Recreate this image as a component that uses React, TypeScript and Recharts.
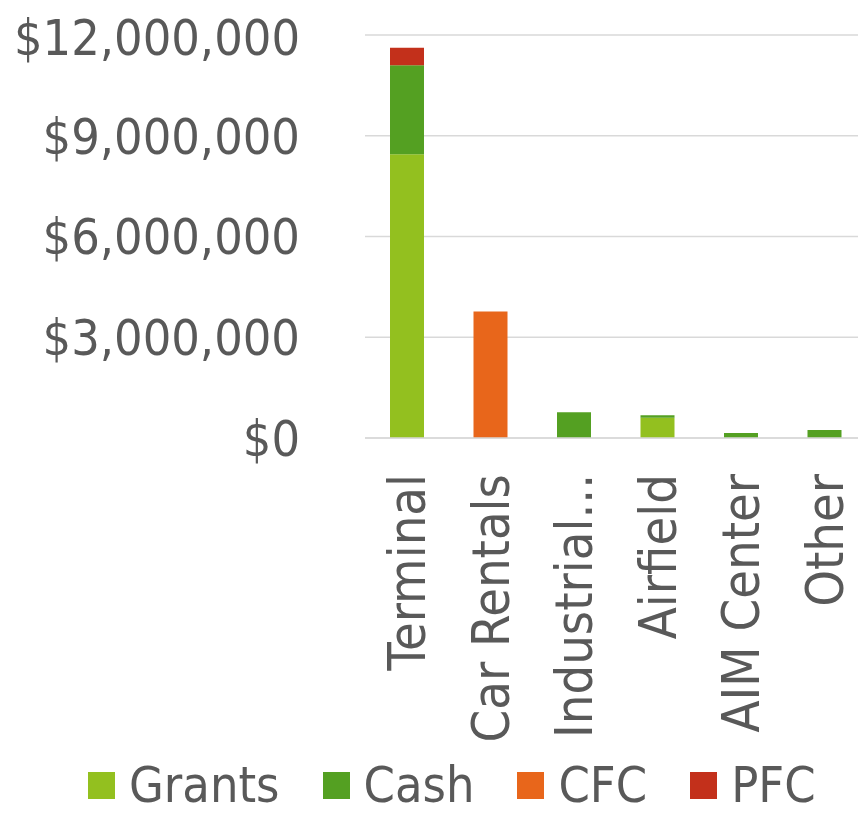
import React from "react";
import { BarChart, Bar, XAxis, YAxis, CartesianGrid, Legend } from "recharts";

const categories = ["Terminal", "Car Rentals", "Industrial...", "Airfield", "AIM Center", "Other"];
const grants = [8450000, 0, 0, 600000, 0, 0];
const cash = [2650000, 0, 770000, 80000, 150000, 240000];
const cfc = [0, 3770000, 0, 0, 0, 0];
const pfc = [520000, 0, 0, 0, 0, 0];
const yTicks = [0, 3000000, 6000000, 9000000, 12000000];

const series = [
  { key: "Grants", color: "#93c01f" },
  { key: "Cash", color: "#54a022" },
  { key: "CFC", color: "#e8661b" },
  { key: "PFC", color: "#c3301b" },
];

const data = categories.map((name, i) => ({
  name,
  Grants: grants[i],
  Cash: cash[i],
  CFC: cfc[i],
  PFC: pfc[i],
}));

const FONT = "'DejaVu Sans Condensed', 'DejaVu Sans', sans-serif";
const TEXT = "#595959";

const fmt = (v: number) => "$" + v.toLocaleString("en-US");

const XTick = ({ x, y, payload }: any) => (
  <text
    x={x}
    y={y + 36}
    transform={`rotate(-90, ${x}, ${y + 36})`}
    textAnchor="end"
    dy="0.36em"
    fill={TEXT}
    fontSize={52}
    fontFamily={FONT}
    style={{ fontStretch: "condensed" }}
  >
    {payload.value}
  </text>
);

const LegendContent = () => (
  <div
    style={{
      display: "flex",
      alignItems: "center",
      height: 58,
      paddingLeft: 80,
      boxSizing: "border-box",
      fontFamily: FONT,
      fontStretch: "condensed",
      fontSize: 50,
      color: TEXT,
    }}
  >
    {series.map((s) => (
      <div key={s.key} style={{ display: "flex", alignItems: "center", marginRight: 43 }}>
        <span style={{ width: 27, height: 27, background: s.color, marginRight: 14, display: "inline-block" }} />
        <span style={{ lineHeight: "58px", whiteSpace: "nowrap" }}>{s.key}</span>
      </div>
    ))}
  </div>
);

export default function App() {
  return (
    <BarChart
      width={858}
      height={806}
      data={data}
      margin={{ top: 27, right: 0, left: 0, bottom: 0 }}
      barSize={34}
    >
      <CartesianGrid vertical={false} stroke="#d9d9d9" strokeWidth={1.5} />
      <XAxis
        dataKey="name"
        height={318}
        interval={0}
        tickLine={false}
        tickSize={0}
        tickMargin={0}
        axisLine={{ stroke: "#d9d9d9", strokeWidth: 1.5 }}
        tick={<XTick />}
      />
      <YAxis
        width={357}
        domain={[0, 12000000]}
        ticks={yTicks}
        tickFormatter={fmt}
        axisLine={false}
        tickLine={false}
        tickSize={0}
        tickMargin={65}
        tick={{ fill: TEXT, fontSize: 50, fontFamily: FONT, style: { fontStretch: "condensed" } }}
      />
      <Legend verticalAlign="bottom" content={<LegendContent />} wrapperStyle={{ left: 0, width: 858 }} />
      {series.map((s) => (
        <Bar key={s.key} dataKey={s.key} stackId="a" fill={s.color} isAnimationActive={false} />
      ))}
    </BarChart>
  );
}
